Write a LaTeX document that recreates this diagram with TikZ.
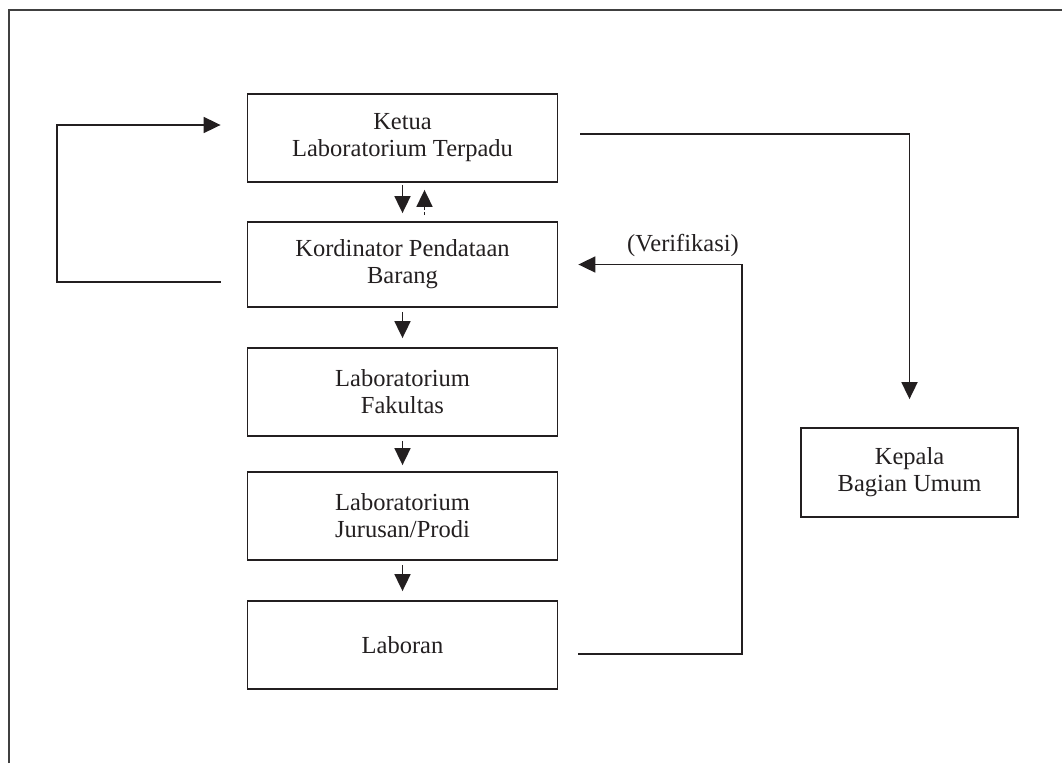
\documentclass[tikz,border=0pt]{standalone}
\usepackage{fontspec}
\setmainfont{Liberation Serif}
\usetikzlibrary{arrows.meta,calc}
\definecolor{ink}{HTML}{231F20}
\begin{document}
\begin{tikzpicture}[x=1pt,y=-1pt,
  box/.style={draw=ink,line width=1.8pt,text=ink,align=center,inner sep=0pt,
    font=\fontsize{24.5}{27}\selectfont},
  conn/.style={draw=ink,line width=1.8pt,-{Triangle[length=17pt,width=16pt]}},
  lbl/.style={text=ink,inner sep=0pt,font=\fontsize{24.5}{27}\selectfont}]
\useasboundingbox (0,0) rectangle (1062,763);
\draw[draw=black!75,line width=2pt] (9,763) -- (9,10) -- (1062,10);

\node[box,minimum width=310pt,minimum height=88pt] (ketua) at (402.5,138) {Ketua\\Laboratorium Terpadu};
\node[box,minimum width=310pt,minimum height=85pt] (kord) at (402.5,264.5) {Kordinator Pendataan\\Barang};
\node[box,minimum width=310pt,minimum height=88pt] (fak) at (402.5,392) {Laboratorium\\Fakultas};
\node[box,minimum width=310pt,minimum height=88pt] (jur) at (402.5,516) {Laboratorium\\Jurusan/Prodi};
\node[box,minimum width=310pt,minimum height=88pt] (lab) at (402.5,645) {Laboran};
\node[box,minimum width=217pt,minimum height=89pt] (kep) at (909.5,472.5) {Kepala\\Bagian Umum};
\node[lbl] (verif) at (683,245) {(Verifikasi)};

\draw[conn,shorten <=2pt,shorten >=8pt] (ketua.south) -- (kord.north);
\draw[conn,dashed,dash pattern=on 3pt off 2pt,shorten <=6pt,shorten >=7pt] ([xshift=22pt]kord.north) -- ([xshift=22pt]ketua.south);
\draw[conn,shorten <=4pt,shorten >=9pt] (kord.south) -- (fak.north);
\draw[conn,shorten <=4pt,shorten >=6pt] (fak.south) -- (jur.north);
\draw[conn,shorten <=4pt,shorten >=9pt] (jur.south) -- (lab.north);

\draw[conn,shorten <=26pt,shorten >=26pt] ([yshift=-17.5pt]kord.west) -- ++(-190,0) |- ([yshift=13pt]ketua.west);
\draw[conn,shorten <=22pt,shorten >=28pt] ([yshift=4pt]ketua.east) -| (kep.north);
\draw[conn,shorten <=20pt,shorten >=20pt] ([yshift=-9pt]lab.east) -- ++(183.5,0) |- (kord.east);
\end{tikzpicture}
\end{document}
